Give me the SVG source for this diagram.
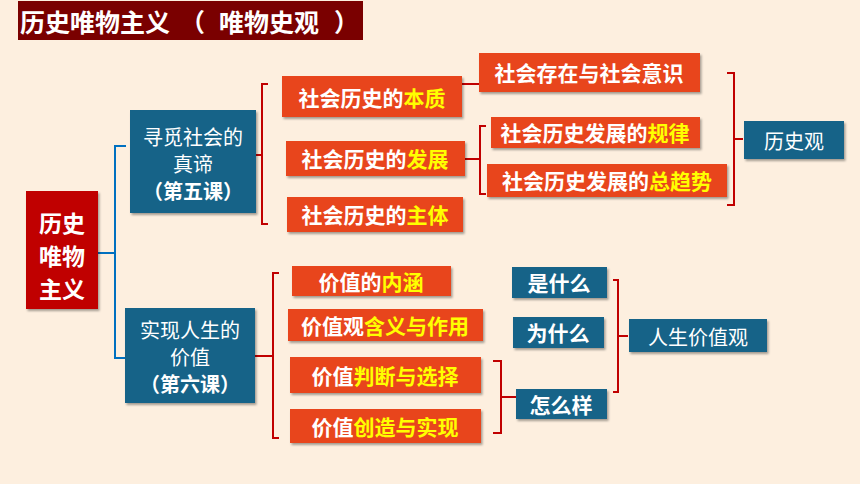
<svg xmlns="http://www.w3.org/2000/svg" width="860" height="484" viewBox="0 0 860 484">
<defs>
<filter id="sh" x="-10%" y="-10%" width="130%" height="140%"><feDropShadow dx="1.5" dy="2" stdDeviation="1.2" flood-color="#000" flood-opacity="0.35"/></filter>
<style>
text{font-family:"Noto Sans CJK SC","Noto Sans CJK TC",sans-serif;fill:#fff;text-anchor:middle;dominant-baseline:central}
.b{font-weight:bold}
.s{text-anchor:start}
.o{fill:#E8451F;filter:url(#sh)}
.bl{fill:#196388;filter:url(#sh)}
.y{fill:#FFFF00}
.cr{fill:none;stroke:#C00000;stroke-width:2}
.cb{fill:none;stroke:#0070C0;stroke-width:2}
</style>
</defs>
<rect width="860" height="484" fill="#FDEFDF"/>
<g id="title"><rect x="18" y="1" width="345" height="39" fill="#7A0000"/><text x="20" y="21" class="b s" font-size="25">历史唯物主义</text><text x="180" y="21" class="b s" font-size="25">（</text><text x="219" y="21" class="b s" font-size="25">唯物史观</text><text x="334" y="21" class="b s" font-size="25">）</text></g>
<g id="connectors">
<path class="cb" d="M98 253H115M126 146H115V358H126"/>
<path class="cr" d="M256 155H262M268 84H262V224H268"/>
<path class="cr" d="M462 84H479"/>
<path class="cr" d="M465 159H480M486 126H480V194H486"/>
<path class="cr" d="M727 73H734V205H727M734 139H743"/>
<path class="cr" d="M255 356H273M279 273H273V438H279"/>
<path class="cr" d="M493 361H501V433H493M501 397H516"/>
<path class="cr" d="M613 280H618V392H613M618 336H628"/>
</g>
<g id="root"><rect x="26" y="191" width="72" height="118" fill="#C00000" filter="url(#sh)"/><text x="62" y="222" class="b" font-size="23">历史</text><text x="62" y="255" class="b" font-size="23">唯物</text><text x="62" y="288" class="b" font-size="23">主义</text></g>
<g id="n1"><rect class="bl" x="130" y="110" width="126" height="103"/><text x="193" y="136" font-size="20">寻觅社会的</text><text x="193" y="163" font-size="20">真谛</text><text x="193" y="190" class="b" font-size="20">（第五课）</text></g>
<g id="n2"><rect class="bl" x="125" y="308" width="130" height="95"/><text x="190" y="329" font-size="20">实现人生的</text><text x="190" y="356" font-size="20">价值</text><text x="190" y="383" class="b" font-size="20">（第六课）</text></g>
<g id="benzhi"><rect class="o" x="282" y="76" width="180" height="41"/><text x="372" y="97" class="b" font-size="21">社会历史的<tspan class="y">本质</tspan></text></g>
<g id="fazhan"><rect class="o" x="286" y="141" width="179" height="35"/><text x="375" y="158" class="b" font-size="21">社会历史的<tspan class="y">发展</tspan></text></g>
<g id="zhuti"><rect class="o" x="287" y="197" width="176" height="35"/><text x="375" y="214" class="b" font-size="21">社会历史的<tspan class="y">主体</tspan></text></g>
<g id="cunzai"><rect class="o" x="479" y="53" width="221" height="39"/><text x="589" y="72" class="b" font-size="21">社会存在与社会意识</text></g>
<g id="guilv"><rect class="o" x="491" y="117" width="209" height="31"/><text x="595" y="132" class="b" font-size="21">社会历史发展的<tspan class="y">规律</tspan></text></g>
<g id="qushi"><rect class="o" x="487" y="164" width="240" height="33"/><text x="607" y="180" class="b" font-size="21">社会历史发展的<tspan class="y">总趋势</tspan></text></g>
<g id="lishiguan"><rect class="bl" x="744" y="121" width="100" height="38"/><text x="794" y="140" font-size="20">历史观</text></g>
<g id="neihan"><rect class="o" x="292" y="266" width="159" height="30"/><text x="371" y="281" class="b" font-size="21">价值的<tspan class="y">内涵</tspan></text></g>
<g id="hanyi"><rect class="o" x="288" y="309" width="195" height="32"/><text x="385" y="325" class="b" font-size="21">价值观<tspan class="y">含义与作用</tspan></text></g>
<g id="panduan"><rect class="o" x="290" y="357" width="191" height="36"/><text x="385" y="375" class="b" font-size="21">价值<tspan class="y">判断与选择</tspan></text></g>
<g id="chuangzao"><rect class="o" x="290" y="409" width="191" height="34"/><text x="385" y="426" class="b" font-size="21">价值<tspan class="y">创造与实现</tspan></text></g>
<g id="shishenme"><rect class="bl" x="512" y="267" width="95" height="31"/><text x="559" y="282" class="b" font-size="21">是什么</text></g>
<g id="weishenme"><rect class="bl" x="513" y="317" width="91" height="31"/><text x="558" y="332" class="b" font-size="21">为什么</text></g>
<g id="zenmeyang"><rect class="bl" x="516" y="389" width="91" height="30"/><text x="561" y="404" class="b" font-size="21">怎么样</text></g>
<g id="rensheng"><rect class="bl" x="629" y="319" width="138" height="33"/><text x="698" y="336" font-size="20">人生价值观</text></g>
</svg>
